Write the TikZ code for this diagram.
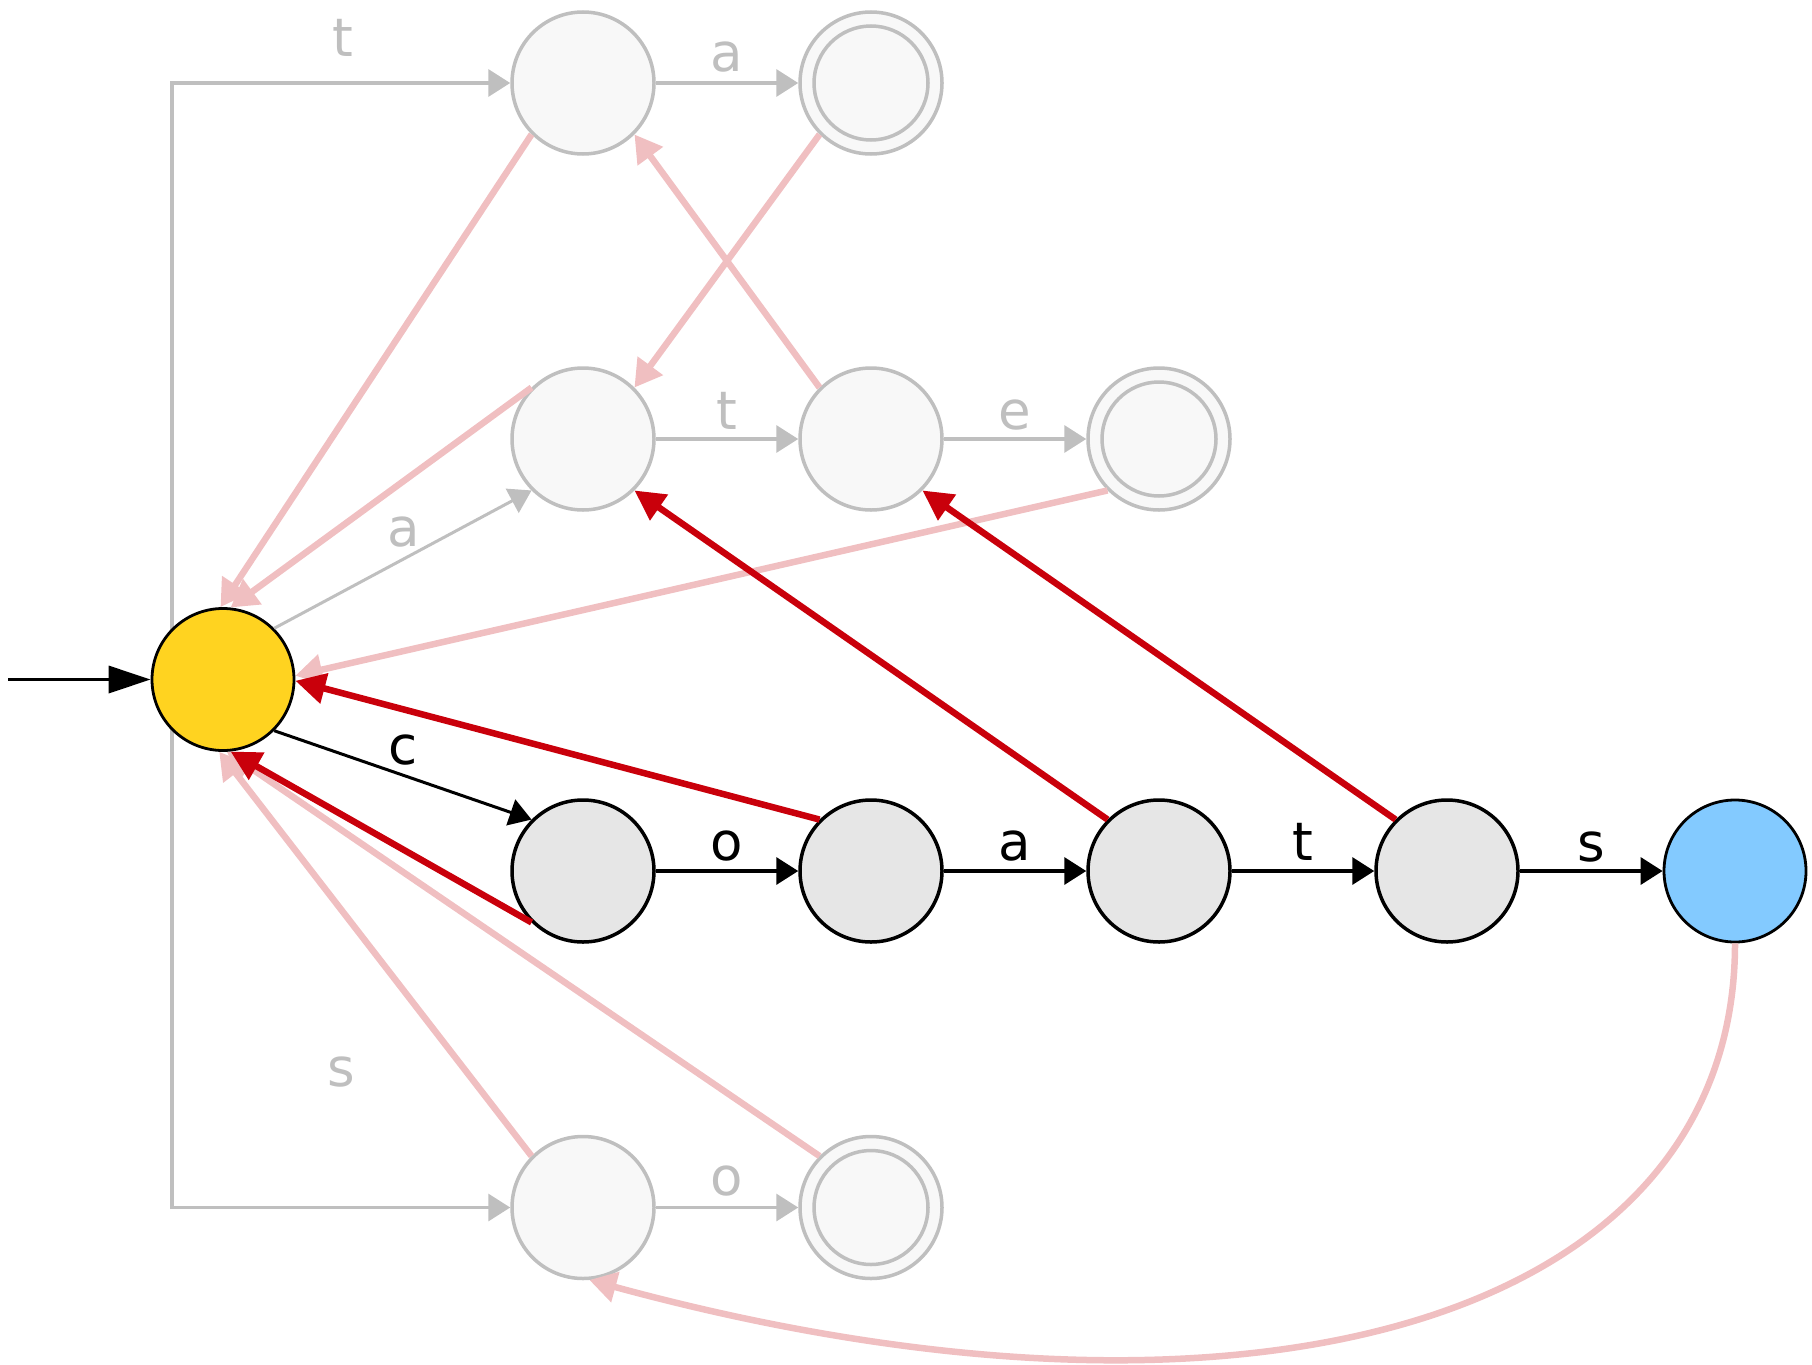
\documentclass[tikz,border=0pt]{standalone}
\usepackage{fontspec}
\setmainfont{DejaVu Sans}
\usetikzlibrary{arrows.meta,backgrounds}
\definecolor{lg}{RGB}{191,191,191}
\definecolor{lightfill}{RGB}{248,248,248}
\definecolor{mainfill}{RGB}{230,230,230}
\definecolor{rootyellow}{RGB}{255,211,32}
\definecolor{endblue}{RGB}{131,202,255}
\definecolor{failred}{RGB}{201,0,11}
\definecolor{failpink}{RGB}{240,191,193}
\begin{document}
\begin{tikzpicture}[x=1pt,y=-1pt,
  st/.style={circle,minimum size=142pt,inner sep=0pt,line width=3.5pt},
  lightst/.style={st,draw=lg,fill=lightfill},
  mainst/.style={st,draw=black,fill=mainfill},
  gedge/.style={draw=lg,line width=3.5pt,-{Triangle[length=22pt,width=27pt]}},
  bedge/.style={draw=black,line width=3.5pt,-{Triangle[length=22pt,width=27pt]}},
  redge/.style={draw=failred,line width=6.5pt,-{Triangle[length=30pt,width=30pt]}},
  pedge/.style={draw=failpink,line width=6.5pt,-{Triangle[length=27pt,width=30pt]}},
  glab/.style={text=lg,font=\fontsize{53}{60}\selectfont,anchor=base,inner sep=0pt},
  blab/.style={glab,text=black}]
\useasboundingbox (0,0) rectangle (1812,1365);

% states
\node[st,draw=black,fill=rootyellow,line width=2.8pt] (root) at (223,679.5) {};
\node[lightst] (top1) at (583,83) {};
\node[lightst] (top2) at (871,83) {};
\draw[lg,line width=3.5pt] (top2.center) circle[radius=57pt];
\node[lightst] (r2a) at (583,439) {};
\node[lightst] (r2b) at (871,439) {};
\node[lightst] (r2c) at (1159,439) {};
\draw[lg,line width=3.5pt] (r2c.center) circle[radius=57pt];
\node[mainst] (m1) at (583,871) {};
\node[mainst] (m2) at (871,871) {};
\node[mainst] (m3) at (1159,871) {};
\node[mainst] (m4) at (1447,871) {};
\node[st,draw=black,fill=endblue,line width=2.8pt] (blue) at (1735,871) {};
\node[lightst] (bot1) at (583,1207.5) {};
\node[lightst] (bot2) at (871,1207.5) {};
\draw[lg,line width=3.5pt] (bot2.center) circle[radius=57pt];

% trie edges (gray)
\begin{scope}[on background layer]
\coordinate (vx) at (172,679.5);
\draw[gedge] (vx) |- (top1);
\draw[gedge] (vx) |- (bot1);
\end{scope}
\draw[gedge] (top1) -- (top2);
\draw[gedge,line width=3pt] (root.45) -- (r2a.225);
\draw[gedge] (r2a) -- (r2b);
\draw[gedge] (r2b) -- (r2c);
\draw[gedge] (bot1) -- (bot2);

% trie edges (black)
\coordinate (init) at (8,679.5);
\draw[draw=black,line width=3.5pt,-{Triangle[length=42pt,width=27pt]}] (init) -- (root);
\draw[bedge,line width=3pt] (root.-45) -- (m1.135);
\draw[bedge] (m1) -- (m2);
\draw[bedge] (m2) -- (m3);
\draw[bedge] (m3) -- (m4);
\draw[bedge] (m4) -- (blue);

% labels
\node[glab] (lt1) at (342.7,56.7) {t};
\node[glab] (la1) at (726.7,71.7) {a};
\node[glab] (la2) at (403.3,546.7) {a};
\node[glab] (lt2) at (727,429.3) {t};
\node[glab] (le2) at (1015,429.3) {e};
\node[glab] (ls1) at (341.7,1086.7) {s};
\node[glab] (lo1) at (726.7,1195) {o};
\node[blab] (lc) at (402.7,764) {c};
\node[blab] (lo) at (726.7,860) {o};
\node[blab] (la) at (1015,860) {a};
\node[blab] (lt) at (1303,860) {t};
\node[blab] (ls) at (1591.7,861) {s};

% failure links (pink)
\draw[pedge] (top1.225) -- (root.92);
\draw[pedge] (r2a.135) -- (root.84);
\draw[pedge] (top2.225) -- (r2a.45);
\draw[pedge] (r2b.135) -- (top1.-45);
\draw[pedge] (r2c.225) -- (root.3);
\draw[pedge] (bot1.135) -- (root.-93);
\draw[pedge] (bot2.135) -- (root.-87);
\draw[pedge] (blue.south) .. controls (1735,1320) and (1250,1460) .. (bot1.-85);

% failure links (red)
\draw[redge] (m2.135) -- (root.-1);
\draw[redge] (m1.225) -- (root.-84);
\draw[redge] (m3.135) -- (r2a.-45);
\draw[redge] (m4.135) -- (r2b.-45);
\end{tikzpicture}
\end{document}
